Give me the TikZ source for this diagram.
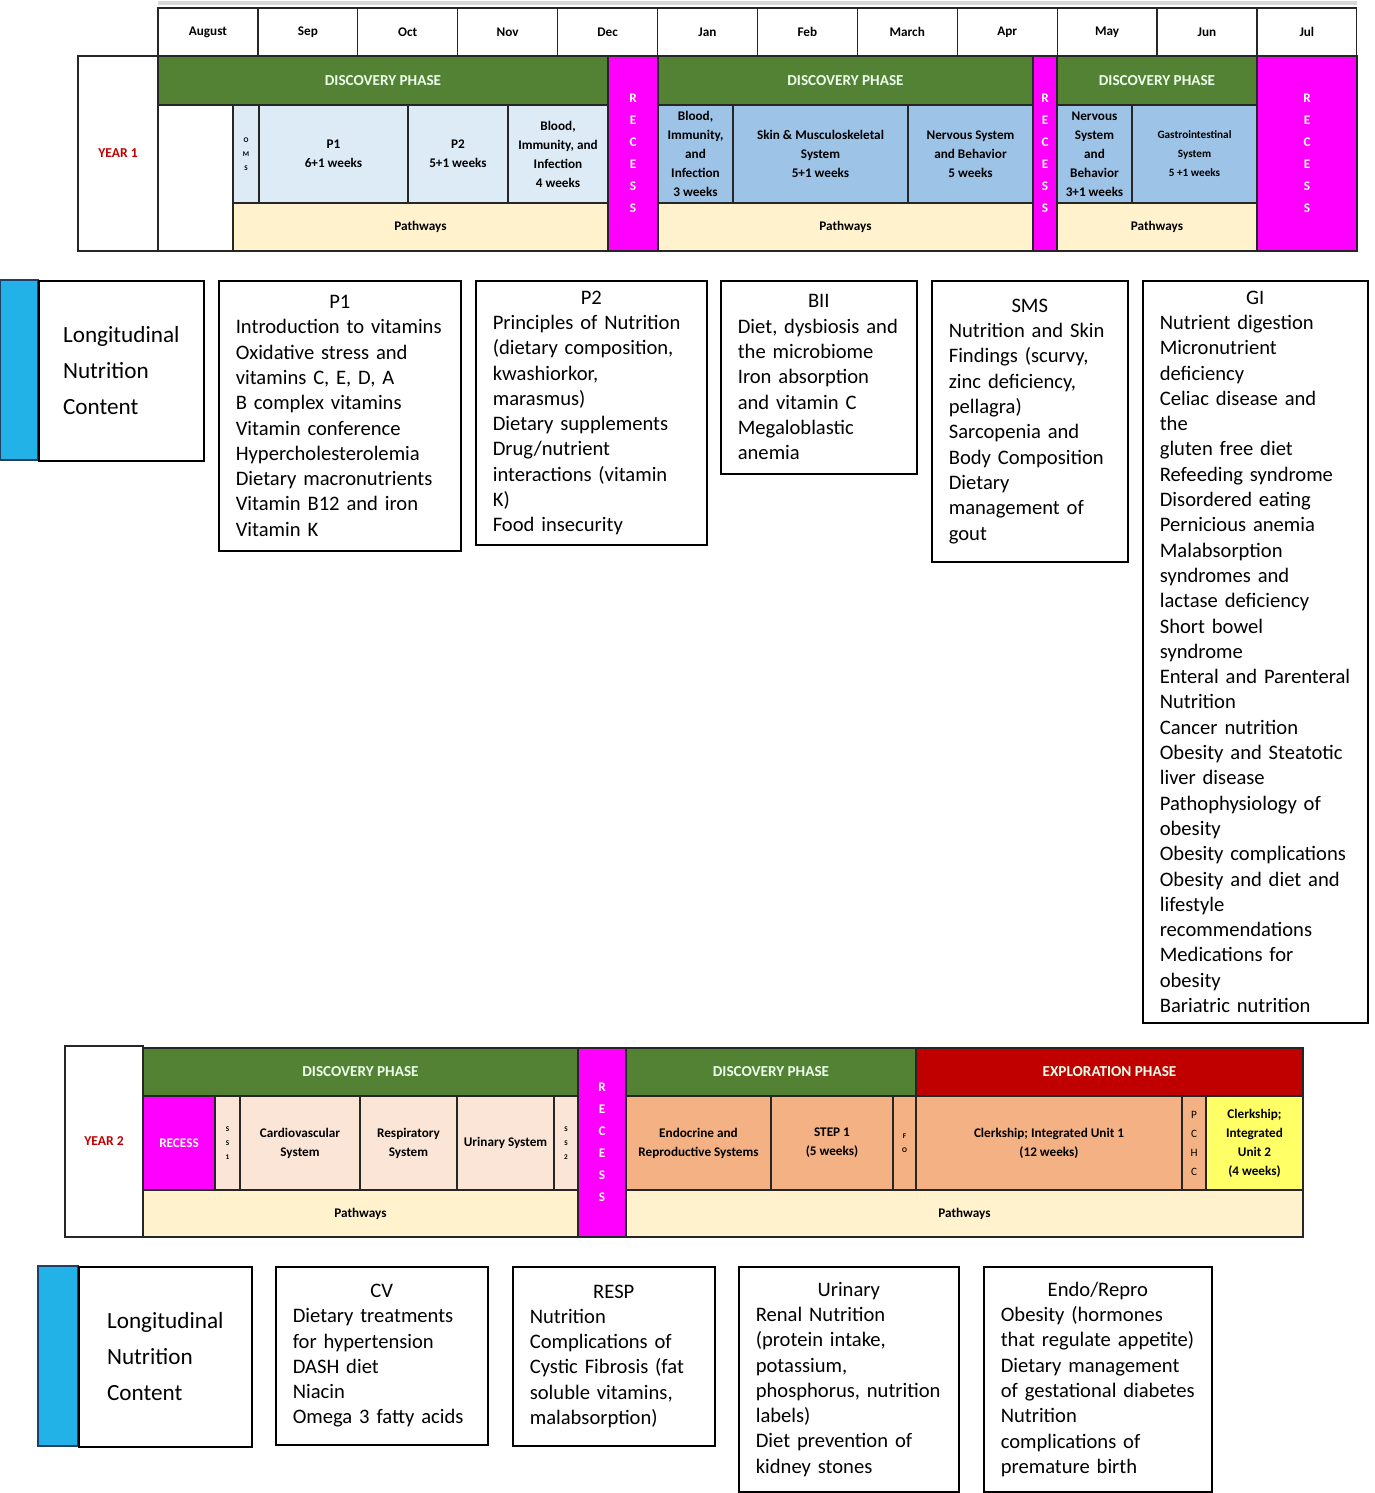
\documentclass[tikz,border=0pt]{standalone}
\usepackage{fontspec}
\setmainfont{Carlito}
\usetikzlibrary{calc}
\definecolor{phasegreen}{HTML}{548235}
\definecolor{recess}{HTML}{FF00FF}
\definecolor{lightblue}{HTML}{DDEBF7}
\definecolor{midblue}{HTML}{9DC3E6}
\definecolor{pathway}{HTML}{FFF2CC}
\definecolor{peach}{HTML}{FBE5D6}
\definecolor{orange}{HTML}{F4B183}
\definecolor{explore}{HTML}{C00000}
\definecolor{clerk}{HTML}{FFFF66}
\definecolor{barblue}{HTML}{22B2E7}
\definecolor{barline}{HTML}{1F3F66}
\tikzset{
  cellline/.style={draw=black!85, line width=0.6pt},
  celltext/.style={font=\fontsize{6.6}{9.5}\selectfont\bfseries, align=center, inner sep=0pt},
  phasetext/.style={font=\fontsize{7.6}{9}\selectfont\bfseries, text=green!8, align=center},
  vert/.style={font=\fontsize{6.6}{11}\selectfont\bfseries, text=white, align=center},
  tiny/.style={font=\fontsize{3.6}{7}\selectfont\bfseries, align=center},
  yeartext/.style={font=\fontsize{6.8}{8}\selectfont\bfseries, text=explore},
  tbox/.style={draw=black, line width=0.8pt, anchor=north west, inner xsep=8.5pt,
    inner ysep=5pt, font=\fontsize{10.3}{12.65}\selectfont},
  ltitle/.style={draw=black, line width=0.8pt, anchor=north west, inner xsep=8pt,
    inner ysep=6pt, font=\fontsize{11.6}{18}\selectfont, align=left},
}
% cell: name, x1, y1, x2, y2, fill, style, text
\newcommand\cell[8]{%
  \path[cellline, fill=#6] (#2,#3) rectangle (#4,#5);
  \node[#7] (#1) at ($(#2,#3)!0.5!(#4,#5)$) {#8};}
\begin{document}
\begin{tikzpicture}[x=0.5pt,y=-0.5pt]
\useasboundingbox (0,0) rectangle (1375,1493);
% ---- Year 1 calendar
\draw[gray!30, line width=2pt] (158,3) -- (1357,3);
\foreach \m [count=\i from 0] in {August,Sep,Oct,Nov,Dec,Jan,Feb,March,Apr,May,Jun,Jul}
  \cell{m\i}{158+\i*99.9}{8}{158+\i*99.9+99.9}{56}{white}{celltext}{\m};
\cell{yone}{78}{56}{158}{251}{white}{yeartext}{YEAR 1}
\cell{dpa}{158}{56}{608}{105}{phasegreen}{phasetext}{DISCOVERY PHASE}
\cell{dpb}{658}{56}{1033}{105}{phasegreen}{phasetext}{DISCOVERY PHASE}
\cell{dpc}{1057}{56}{1257}{105}{phasegreen}{phasetext}{DISCOVERY PHASE}
\cell{reca}{608}{56}{658}{251}{recess}{vert}{R\\E\\C\\E\\S\\S}
\cell{recb}{1033}{56}{1057}{251}{recess}{vert}{R\\E\\C\\E\\S\\S}
\cell{recc}{1257}{56}{1357}{251}{recess}{vert}{R\\E\\C\\E\\S\\S}
\cell{blank}{158}{105}{233}{251}{white}{celltext}{}
\cell{oms}{233}{105}{259}{203}{lightblue}{tiny}{O\\M\\S}
\cell{pone}{259}{105}{408}{203}{lightblue}{celltext}{P1\\6+1 weeks}
\cell{ptwo}{408}{105}{508}{203}{lightblue}{celltext}{P2\\5+1 weeks}
\cell{blooda}{508}{105}{608}{203}{lightblue}{celltext}{Blood,\\Immunity, and\\Infection\\4 weeks}
\cell{bloodb}{658}{105}{733}{203}{midblue}{celltext}{Blood,\\Immunity,\\and\\Infection\\3 weeks}
\cell{skin}{733}{105}{908}{203}{midblue}{celltext}{Skin \& Musculoskeletal\\System\\5+1 weeks}
\cell{nerva}{908}{105}{1033}{203}{midblue}{celltext}{Nervous System\\and Behavior\\5 weeks}
\cell{nervb}{1057}{105}{1132}{203}{midblue}{celltext}{Nervous\\System\\and\\Behavior\\3+1 weeks}
\cell{gi}{1132}{105}{1257}{203}{midblue}{celltext, font=\fontsize{5.6}{9.5}\selectfont\bfseries}{Gastrointestinal\\System\\5 +1 weeks}
\cell{pwa}{233}{203}{608}{251}{pathway}{celltext}{Pathways}
\cell{pwb}{658}{203}{1033}{251}{pathway}{celltext}{Pathways}
\cell{pwc}{1057}{203}{1257}{251}{pathway}{celltext}{Pathways}
% ---- Year 1 content
\path[draw=barline, line width=1.2pt, fill=barblue] (0,280) rectangle (38,460);
\node[ltitle, minimum width=82.5pt, minimum height=90pt] (lnone) at (38,280)
  {Longitudinal\\Nutrition\\Content};
\node[tbox, text width=104pt, minimum height=135pt] (bpone) at (218,280)
  {\centering P1\par\raggedright Introduction to vitamins\\Oxidative stress and\\vitamins C, E, D, A\\B complex vitamins\\Vitamin conference\\Hypercholesterolemia\\Dietary macronutrients\\Vitamin B12 and iron\\Vitamin K\par};
\node[tbox, text width=98.5pt, minimum height=124.5pt] (bptwo) at (475,280)
  {\centering P2\par\raggedright Principles of Nutrition\\(dietary composition,\\kwashiorkor,\\marasmus)\\Dietary supplements\\Drug/nutrient\\interactions (vitamin K)\\Food insecurity\par};
\node[tbox, text width=81pt, minimum height=96.5pt] (bbii) at (720,280)
  {\centering BII\par\raggedright Diet, dysbiosis and\\the microbiome\\Iron absorption\\and vitamin C\\Megaloblastic\\anemia\par};
\node[tbox, text width=81pt, minimum height=140.5pt] (bsms) at (931,280)
  {\centering SMS\par\raggedright Nutrition and Skin\\Findings (scurvy,\\zinc deficiency,\\pellagra)\\Sarcopenia and\\Body Composition\\Dietary\\management of\\gout\par};
\node[tbox, text width=95.5pt, minimum height=365pt] (bgi) at (1142,280)
  {\centering GI\par\raggedright Nutrient digestion\\Micronutrient\\deficiency\\Celiac disease and the\\gluten free diet\\Refeeding syndrome\\Disordered eating\\Pernicious anemia\\Malabsorption\\syndromes and\\lactase deficiency\\Short bowel\\syndrome\\Enteral and Parenteral\\Nutrition\\Cancer nutrition\\Obesity and Steatotic\\liver disease\\Pathophysiology of\\obesity\\Obesity complications\\Obesity and diet and\\lifestyle\\recommendations\\Medications for\\obesity\\Bariatric nutrition\par};
% ---- Year 2 calendar
\cell{ytwo}{65}{1046}{143}{1237}{white}{yeartext}{YEAR 2}
\cell{dpd}{143}{1048}{578}{1096}{phasegreen}{phasetext}{DISCOVERY PHASE}
\cell{dpe}{626}{1048}{916}{1096}{phasegreen}{phasetext}{DISCOVERY PHASE}
\cell{expl}{916}{1048}{1303}{1096}{explore}{phasetext}{EXPLORATION PHASE}
\cell{recd}{578}{1048}{626}{1237}{recess}{vert}{R\\E\\C\\E\\S\\S}
\cell{rece}{143}{1096}{215}{1190}{recess}{vert}{RECESS}
\cell{ssone}{215}{1096}{240}{1190}{peach}{tiny}{S\\S\\1}
\cell{cardio}{240}{1096}{360}{1190}{peach}{celltext}{Cardiovascular\\System}
\cell{resp}{360}{1096}{457}{1190}{peach}{celltext}{Respiratory\\System}
\cell{urin}{457}{1096}{554}{1190}{peach}{celltext}{Urinary System}
\cell{sstwo}{554}{1096}{578}{1190}{peach}{tiny}{S\\S\\2}
\cell{endo}{626}{1096}{771}{1190}{orange}{celltext}{Endocrine and\\Reproductive Systems}
\cell{step}{771}{1096}{893}{1190}{orange}{celltext}{STEP 1\\(5 weeks)}
\cell{fo}{893}{1096}{916}{1190}{orange}{tiny}{F\\O}
\cell{clone}{916}{1096}{1182}{1190}{orange}{celltext}{Clerkship; Integrated Unit 1\\(12 weeks)}
\cell{pchc}{1182}{1096}{1206}{1190}{orange}{font=\fontsize{5.6}{9.5}\selectfont, align=center}{P\\C\\H\\C}
\cell{cltwo}{1206}{1096}{1303}{1190}{clerk}{celltext}{Clerkship;\\Integrated\\Unit 2\\(4 weeks)}
\cell{pwd}{143}{1190}{578}{1237}{pathway}{celltext}{Pathways}
\cell{pwe}{626}{1190}{1303}{1237}{pathway}{celltext}{Pathways}
% ---- Year 2 content
\path[draw=barline, line width=1.2pt, fill=barblue] (38,1266) rectangle (78,1446);
\node[ltitle, minimum width=86.5pt, minimum height=90pt] (lntwo) at (78,1266)
  {Longitudinal\\Nutrition\\Content};
\node[tbox, text width=89pt, minimum height=89pt] (bcv) at (275,1266)
  {\centering CV\par\raggedright Dietary treatments\\for hypertension\\DASH diet\\Niacin\\Omega 3 fatty acids\par};
\node[tbox, text width=84pt, minimum height=89.5pt] (bresp) at (512,1266)
  {\centering RESP\par\raggedright Nutrition\\Complications of\\Cystic Fibrosis (fat\\soluble vitamins,\\malabsorption)\par};
\node[tbox, text width=93pt, minimum height=112.5pt] (burin) at (738,1266)
  {\centering Urinary\par\raggedright Renal Nutrition\\(protein intake,\\potassium,\\phosphorus, nutrition\\labels)\\Diet prevention of\\kidney stones\par};
\node[tbox, text width=97pt, minimum height=112.5pt] (bendo) at (983,1266)
  {\centering Endo/Repro\par\raggedright Obesity (hormones\\that regulate appetite)\\Dietary management\\of gestational diabetes\\Nutrition\\complications of\\premature birth\par};
\end{tikzpicture}
\end{document}
